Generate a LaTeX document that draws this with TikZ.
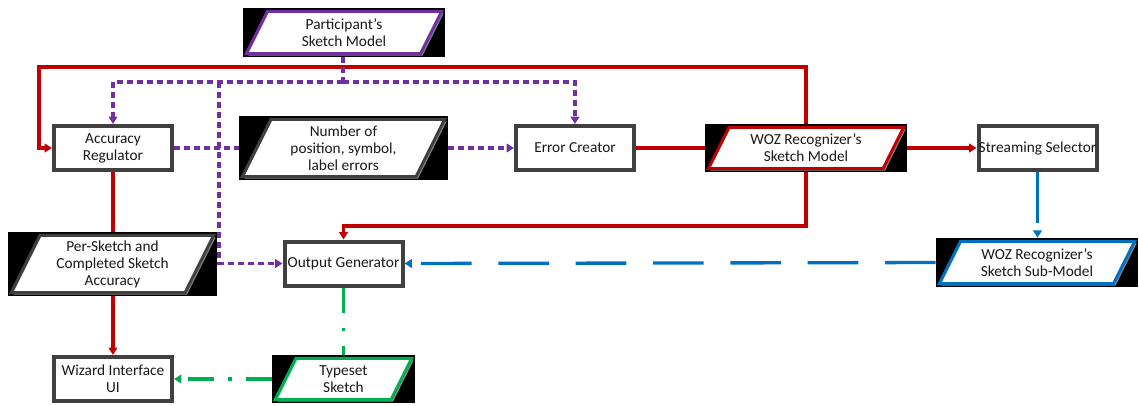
\documentclass[tikz,border=0pt]{standalone}
\usepackage{fontspec}
\setmainfont{Carlito}
\usetikzlibrary{arrows.meta,calc}
\definecolor{cred}{HTML}{C00000}
\definecolor{cpurple}{HTML}{7030A0}
\definecolor{cblue}{HTML}{0070C0}
\definecolor{cgreen}{HTML}{00B050}
\definecolor{boxgray}{HTML}{404040}
\tikzset{
  base/.style={font=\fontsize{11.5}{12.8}\selectfont, align=center, inner sep=0pt, text=black!90},
  box/.style={base, rectangle, draw=boxgray, line width=3pt, fill=white,
    minimum width=88.5pt, minimum height=33pt},
  para/.style={base, rectangle, fill=black, path picture={
    \fill[black!45] let \p1=(path picture bounding box.north west),
        \p2=(path picture bounding box.south east), \n1={0.5*(\y1-\y2)} in
      (\x1+\n1+1.5pt,\y1-4pt) -- (\x2-1pt,\y1-4pt) -- (\x2-\n1+1.5pt,\y2+1pt) -- (\x1+4pt,\y2+1pt) -- cycle;
    \filldraw[fill=white, draw=#1, line width=2.3pt] let \p1=(path picture bounding box.north west),
        \p2=(path picture bounding box.south east), \n1={0.5*(\y1-\y2)} in
      (\x1+\n1,\y1-2.5pt) -- (\x2-2.5pt,\y1-2.5pt) -- (\x2-\n1,\y2+2.5pt) -- (\x1+2.5pt,\y2+2.5pt) -- cycle;
  }},
  conn/.style={line width=2.5pt},
  tip/.style={-{Triangle[length=5.5pt,width=6.5pt]}},
  redline/.style={conn, cred},
  purpline/.style={conn, cpurple, dash pattern=on 4.5pt off 3pt},
  blueline/.style={conn, cblue, dash pattern=on 38pt off 20pt},
  greenline/.style={conn, cgreen, dash pattern=on 19pt off 11pt on 2.5pt off 11pt},
}
\begin{document}
\begin{tikzpicture}[x=0.75pt, y=-0.75pt]
\useasboundingbox (0,0) rectangle (1139,405);

% nodes
\node[para=cpurple, minimum width=151.5pt, minimum height=36.75pt] (part) at (344,32.5) {Participant’s\\Sketch Model};
\node[box] (acc) at (113,148) {Accuracy\\Regulator};
\node[para=boxgray, minimum width=156.75pt, minimum height=48pt] (num) at (343.5,148) {Number of\\position, symbol,\\label errors};
\node[box] (err) at (575,148) {Error Creator};
\node[para=cred, minimum width=151.5pt, minimum height=36pt] (woz) at (806,148) {WOZ Recognizer’s\\Sketch Model};
\node[box] (ss) at (1037.5,148) {Streaming Selector};
\node[para=cblue, minimum width=151.5pt, minimum height=36.75pt] (sub) at (1037,262.5) {WOZ Recognizer’s\\Sketch Sub-Model};
\node[para=boxgray, minimum width=156.75pt, minimum height=48pt] (per) at (112.5,264) {Per-Sketch and\\Completed Sketch\\Accuracy};
\node[box] (og) at (343.5,263.5) {Output Generator};
\node[box] (wiz) at (113,379) {Wizard Interface\\UI};
\node[para=cgreen, minimum width=107.25pt, minimum height=36pt] (typ) at (343.5,379) {Typeset\\Sketch};

% junction coordinates
\coordinate (redtop) at (39,67);
\coordinate (redbot) at (806,226);
\coordinate (pj) at (343,82);
\coordinate (pb) at (219,82);

% red connectors
\draw[redline, tip] (woz.north) |- (redtop) |- (acc.west);
\draw[redline] (err.east) -- (woz.west);
\draw[redline, tip] (woz.east) -- (ss.west);
\draw[redline, tip] (woz.south) -- (redbot) -| (og.north);
\draw[redline] (acc.south) -- (acc.south |- per.north);
\draw[redline, tip] (acc.south |- per.south) -- (wiz.north);

% purple connectors
\draw[purpline] (part.south -| pj) -- (pj);
\draw[purpline, tip] (pj) -| (acc.north);
\draw[purpline, tip] (pj) -| (err.north);
\draw[purpline, tip] (pb) |- (og.west);
\draw[purpline] (acc.east) -- (num.west);
\draw[purpline, tip] (num.east) -- (err.west);

% blue connectors
\draw[blueline, tip] (ss.south) -- (ss.south |- sub.north);
\draw[blueline, tip] (sub.west) -- (og.east);

% green connectors
\draw[greenline] (og.south) -- (typ.north);
\draw[greenline, tip] (typ.west) -- (wiz.east);
\end{tikzpicture}
\end{document}
